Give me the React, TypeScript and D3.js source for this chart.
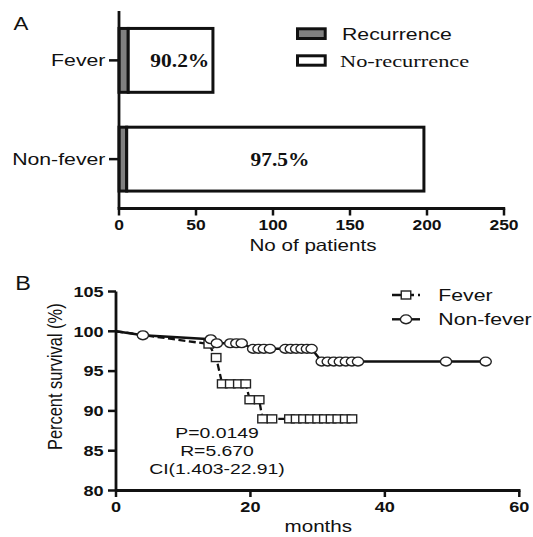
import React from "react";
import * as d3 from "d3";

// Panel A data
const categoriesA = ["Fever", "Non-fever"];
const recurrence = [6, 5];
const noRecurrence = [55, 193];
const pctLabels = ["90.2%", "97.5%"];
const pctLabelX = [39.5, 104.5];
const xTicksA = [0, 50, 100, 150, 200, 250];

// Panel B data
const feverTime = [0, 13.8, 14.9, 15.8, 17.0, 18.2, 19.3, 19.9, 21.3, 21.8, 23.2, 25.8, 26.8, 27.9, 28.9, 30.0, 31.0, 32.0, 33.0, 34.1, 35.1];
const feverSurv = [100, 98.4, 96.7, 93.4, 93.4, 93.4, 93.4, 91.4, 91.4, 89.0, 89.0, 89.0, 89.0, 89.0, 89.0, 89.0, 89.0, 89.0, 89.0, 89.0, 89.0];
const nonFeverTime = [0, 4.0, 14.1, 15.0, 17.0, 17.9, 18.7, 20.4, 21.2, 22.0, 22.9, 25.2, 26.0, 26.8, 27.6, 28.4, 29.1, 30.6, 31.5, 32.4, 33.3, 34.2, 35.1, 36.0, 49.1, 55.0];
const nonFeverSurv = [100, 99.5, 99.0, 98.5, 98.5, 98.5, 98.5, 97.8, 97.8, 97.8, 97.8, 97.8, 97.8, 97.8, 97.8, 97.8, 97.8, 96.2, 96.2, 96.2, 96.2, 96.2, 96.2, 96.2, 96.2, 96.2];
const xTicksB = [0, 20, 40, 60];
const yTicksB = [80, 85, 90, 95, 100, 105];
const statLines = ["P=0.0149", "R=5.670", "CI(1.403-22.91)"];

const SANS = "'Liberation Sans', Arial, Helvetica, sans-serif";
const SERIF = "'Liberation Serif', 'Times New Roman', serif";

function T({ x, y, sx = 1.25, size, anchor = "start", weight = "normal", family = SANS, rotate = 0, children }: any) {
  return (
    <text
      transform={`translate(${x},${y}) scale(${sx},1)${rotate ? ` rotate(${rotate})` : ""}`}
      fontSize={size}
      fontFamily={family}
      fontWeight={weight}
      textAnchor={anchor}
      fill="#111"
    >
      {children}
    </text>
  );
}

export default function App() {
  // Panel A scales
  const xA = d3.scaleLinear().domain([0, 250]).range([119, 504]);
  const yA = d3.scaleBand<string>().domain(categoriesA).range([11, 208.5]).paddingInner(0.333).paddingOuter(0.1665);
  const bw = yA.bandwidth();

  // Panel B scales
  const xB = d3.scaleLinear().domain([0, 60]).range([116, 519.3]);
  const yB = d3.scaleLinear().domain([80, 105]).range([490.5, 291.5]);

  const fever = feverTime.map((t, i) => [t, feverSurv[i]] as [number, number]);
  const nonFever = nonFeverTime.map((t, i) => [t, nonFeverSurv[i]] as [number, number]);
  const line = d3.line<[number, number]>().x((d) => xB(d[0])).y((d) => yB(d[1]));

  const sqW = 9.5, sqH = 8;
  const cRx = 5.6, cRy = 4.4;

  return (
    <svg width={533} height={537} style={{ position: "absolute", left: 0, top: 0, background: "#fff" }}>
      {/* ---------------- Panel A ---------------- */}
      <T x={13.6} y={30} size={18.6} sx={1.2}>A</T>

      {categoriesA.map((c, i) => {
        const y0 = (yA(c) as number) + 1;
        const h = bw - 2;
        return (
          <g key={c}>
            <rect x={xA(0)} y={y0} width={xA(recurrence[i]) - xA(0)} height={h} fill="#808080" stroke="#111" strokeWidth={3} />
            <rect x={xA(recurrence[i])} y={y0} width={xA(recurrence[i] + noRecurrence[i]) - xA(recurrence[i])} height={h} fill="#fff" stroke="#111" strokeWidth={3} />
            <T x={xA(pctLabelX[i])} y={(yA(c) as number) + bw / 2 + 6.8} size={19.5} sx={1.1} anchor="middle" weight="bold" family={SERIF}>
              {pctLabels[i]}
            </T>
            <line x1={xA(0) - 10} x2={xA(0)} y1={(yA(c) as number) + bw / 2} y2={(yA(c) as number) + bw / 2} stroke="#111" strokeWidth={2.5} />
            <T x={105.4} y={(yA(c) as number) + bw / 2 + 6.1} size={17} anchor="end">{c}</T>
          </g>
        );
      })}

      {/* axes A */}
      <line x1={xA(0)} x2={xA(0)} y1={11} y2={208.5} stroke="#111" strokeWidth={2.8} />
      <line x1={xA(0) - 1.4} x2={xA(250) + 1.2} y1={208.5} y2={208.5} stroke="#111" strokeWidth={2.8} />
      {xTicksA.map((t) => (
        <g key={t}>
          <line x1={xA(t)} x2={xA(t)} y1={208.5} y2={215.5} stroke="#111" strokeWidth={2.5} />
          <T x={xA(t)} y={230} size={14} anchor="middle" weight="bold">{t}</T>
        </g>
      ))}
      <T x={313} y={250.5} size={16.5} anchor="middle">No of patients</T>

      {/* legend A */}
      <rect x={297.5} y={28.8} width={27.7} height={9.7} fill="#808080" stroke="#111" strokeWidth={3} />
      <rect x={297.5} y={55.8} width={27.7} height={9.4} fill="#fff" stroke="#111" strokeWidth={3} />
      <T x={342} y={39.7} size={16} sx={1.33}>Recurrence</T>
      <T x={340} y={67} size={17.5} sx={1.28} family={SERIF}>No-recurrence</T>

      {/* ---------------- Panel B ---------------- */}
      <T x={15.3} y={290} size={19.5} sx={1.2}>B</T>

      {/* axes B */}
      <line x1={xB(0)} x2={xB(0)} y1={yB(105)} y2={yB(80)} stroke="#111" strokeWidth={2.8} />
      <line x1={xB(0)} x2={xB(60) + 1.2} y1={yB(80)} y2={yB(80)} stroke="#111" strokeWidth={2.8} />
      {yTicksB.map((t) => (
        <g key={t}>
          <line x1={xB(0) - 8} x2={xB(0)} y1={yB(t)} y2={yB(t)} stroke="#111" strokeWidth={2.5} />
          <T x={103.7} y={yB(t) + 5.2} size={14.5} anchor="end" weight="bold">{t}</T>
        </g>
      ))}
      {xTicksB.map((t) => (
        <g key={t}>
          <line x1={xB(t)} x2={xB(t)} y1={yB(80)} y2={yB(80) + 6.5} stroke="#111" strokeWidth={2.5} />
          <T x={xB(t)} y={511.7} size={14.5} anchor="middle" weight="bold">{t}</T>
        </g>
      ))}
      <T x={318.3} y={532} size={16.5} anchor="middle">months</T>
      <T x={62} y={376.7} size={16.4} anchor="middle" rotate={-90}>Percent survival (%)</T>

      {/* curves */}
      <path d={line(fever) || ""} fill="none" stroke="#111" strokeWidth={2.3} strokeDasharray="7,3.5" />
      {fever.slice(1).map((d, i) => (
        <rect key={"f" + i} x={xB(d[0]) - sqW / 2} y={yB(d[1]) - sqH / 2} width={sqW} height={sqH} fill="#fff" stroke="#222" strokeWidth={1.4} />
      ))}
      <path d={line(nonFever) || ""} fill="none" stroke="#111" strokeWidth={2.4} />
      {nonFever.slice(1).map((d, i) => (
        <ellipse key={"n" + i} cx={xB(d[0])} cy={yB(d[1])} rx={cRx} ry={cRy} fill="#fff" stroke="#222" strokeWidth={1.4} />
      ))}

      {/* stats */}
      {statLines.map((s, i) => (
        <T key={s} x={217} y={438.3 + i * 17.8} size={15.5} anchor="middle">{s}</T>
      ))}

      {/* legend B */}
      <line x1={392} x2={420} y1={295} y2={295} stroke="#111" strokeWidth={2.3} strokeDasharray="9,4" />
      <rect x={406 - sqW / 2} y={295 - sqH / 2} width={sqW} height={sqH} fill="#fff" stroke="#222" strokeWidth={1.4} />
      <T x={438.3} y={301.1} size={17}>Fever</T>
      <line x1={392} x2={420} y1={319.3} y2={319.3} stroke="#111" strokeWidth={2.4} />
      <ellipse cx={406} cy={319.3} rx={cRx} ry={cRy} fill="#fff" stroke="#222" strokeWidth={1.4} />
      <T x={438.3} y={325.4} size={17}>Non-fever</T>
    </svg>
  );
}
